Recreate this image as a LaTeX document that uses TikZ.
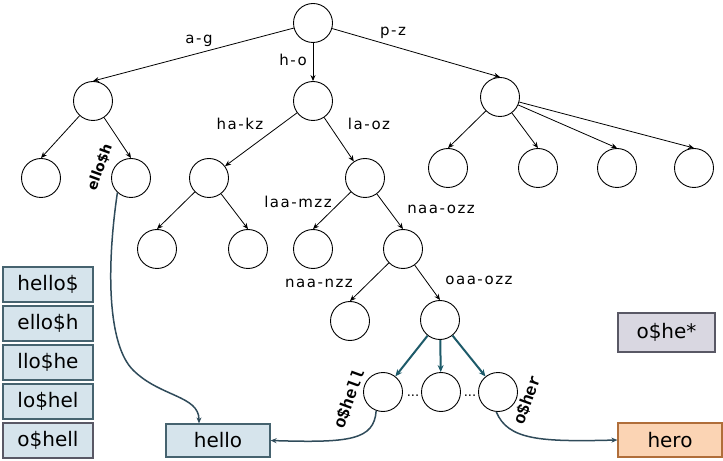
\documentclass[tikz,border=0pt]{standalone}
\usepackage{fontspec}
\setmainfont{DejaVu Sans}
\newfontfamily\lblfont[LetterSpace=10]{DejaVu Sans}
\newfontfamily\monob{Liberation Mono}
\usetikzlibrary{arrows.meta,calc}
\definecolor{boxfill}{HTML}{D6E4EC}
\definecolor{boxline}{HTML}{46636F}
\definecolor{tealarr}{HTML}{1D5A69}
\definecolor{curvecol}{HTML}{2F4B5A}
\definecolor{herofill}{HTML}{FBD4B4}
\definecolor{heroline}{HTML}{B06E3A}
\definecolor{starfill}{HTML}{D9D7E1}
\definecolor{starline}{HTML}{595865}
\tikzset{
  tnode/.style={circle,draw=black,line width=0.9bp,minimum size=39bp,inner sep=0pt},
  edge/.style={draw=black,line width=0.8bp,-{Stealth[length=6bp,width=5bp]}},
  tedge/.style={draw=tealarr,line width=2bp,-{Stealth[length=7bp,width=6bp]}},
  curve/.style={draw=curvecol,line width=1.5bp,-{Stealth[length=6bp,width=5bp]}},
  lbl/.style={font=\lblfont\fontsize{15bp}{18bp}\selectfont,inner sep=0pt},
  sbox/.style={rectangle,draw=boxline,fill=boxfill,line width=1.2bp,minimum width=90bp,minimum height=35bp,inner sep=0pt,font=\fontsize{20bp}{24bp}\selectfont},
  rlbl/.style={font=\monob\bfseries\fontsize{17bp}{20bp}\selectfont,inner sep=0pt,rotate=70},
}
\begin{document}
\begin{tikzpicture}[x=1bp,y=-1bp]
\useasboundingbox (0,0) rectangle (723,461);
% tree nodes
\node[tnode] (root) at (313,23) {};
\node[tnode] (a) at (93,101) {};
\node[tnode] (b) at (313,101) {};
\node[tnode] (c) at (500,97) {};
\node[tnode] (aa) at (41,178) {};
\node[tnode] (ab) at (131,178) {};
\node[tnode] (ba) at (209,178) {};
\node[tnode] (bb) at (365,178) {};
\node[tnode] (c1) at (448,168) {};
\node[tnode] (c2) at (538,168) {};
\node[tnode] (c3) at (617,168) {};
\node[tnode] (c4) at (694,168) {};
\node[tnode] (baa) at (157,249) {};
\node[tnode] (bab) at (248,249) {};
\node[tnode] (bba) at (313,249) {};
\node[tnode] (bbb) at (403,249) {};
\node[tnode] (x1) at (350,321) {};
\node[tnode] (x2) at (440,320) {};
\node[tnode] (y1) at (383,392) {};
\node[tnode] (y2) at (441,392) {};
\node[tnode] (y3) at (498,392) {};
% edges
\draw[edge] (root) -- (a.north);
\draw[edge] (root) -- (b.north);
\draw[edge] (root) -- (c.north);
\draw[edge] (a) -- (aa.north);
\draw[edge] (a) -- (ab.north);
\draw[edge] (b) -- (ba);
\draw[edge] (b) -- (bb);
\draw[edge] (ba) -- (baa.north);
\draw[edge] (ba) -- (bab.north);
\draw[edge] (bb) -- (bba.north);
\draw[edge] (bb) -- (bbb.north);
\draw[edge] (bbb) -- (x1.north);
\draw[edge] (bbb) -- (x2.north);
\draw[edge] (c) -- (c1.north);
\draw[edge] (c) -- (c2.north);
\draw[edge] (c) -- (c3.north);
\draw[edge] (c) -- (c4.north);
\draw[tedge] (x2) -- (y1);
\draw[tedge] (x2) -- (y2);
\draw[tedge] (x2) -- (y3);
% edge labels
\node[lbl] (lag) at (199,41) {a-g};
\node[lbl] (lho) at (293,60) {h-o};
\node[lbl] (lpz) at (393,33) {p-z};
\node[lbl] (lhakz) at (240,124) {ha-kz};
\node[lbl] (llaoz) at (369,124) {la-oz};
\node[lbl] (llaamzz) at (298,202) {laa-mzz};
\node[lbl] (lnaaozz) at (441,209) {naa-ozz};
\node[lbl] (lnaanzz) at (319,283) {naa-nzz};
\node[lbl] (loaaozz) at (479,280) {oaa-ozz};
% dots
\node[font=\fontsize{13bp}{15bp}\selectfont,inner sep=0pt,anchor=base] (d1) at (413,396) {...};
\node[font=\fontsize{13bp}{15bp}\selectfont,inner sep=0pt,anchor=base] (d2) at (470,396) {...};
% rotated labels
\node[font=\bfseries\fontsize{14bp}{16bp}\selectfont,inner sep=0pt,rotate=70] (rello) at (100,167) {ello\$h};
\node[rlbl] (rhell) at (349,399) {o\$hell};
\node[rlbl] (rher) at (527,400) {o\$her};
% left boxes
\node[sbox] (s1) at (48,284.5) {hello\$};
\node[sbox] (s2) at (48,323.5) {ello\$h};
\node[sbox] (s3) at (48,362.5) {llo\$he};
\node[sbox] (s4) at (48,401.5) {lo\$hel};
\node[sbox,draw=starline] (s5) at (48,440.5) {o\$hell};
% result boxes
\node[sbox,minimum width=104bp,minimum height=33bp] (hello) at (218,440.5) {hello};
\node[sbox,draw=heroline,fill=herofill,minimum width=104bp,minimum height=34bp] (hero) at (670,440) {hero};
\node[sbox,draw=starline,fill=starfill,minimum width=97bp,minimum height=39bp] (star) at (666.5,332.5) {o\$he*};
% curves
\draw[curve] (ab.-133) .. controls (106,270) and (108,345) .. (133,370)
  .. controls (160,397) and ($(hello.north)+(-19,-28)$) .. ($(hello.north)+(-19,0)$);
\draw[curve] (y1.-110) .. controls (374,440) and (350,443) .. (hello.east);
\draw[curve] (y3.-95) .. controls (508,440) and (540,442) .. (hero.west);
\end{tikzpicture}
\end{document}
